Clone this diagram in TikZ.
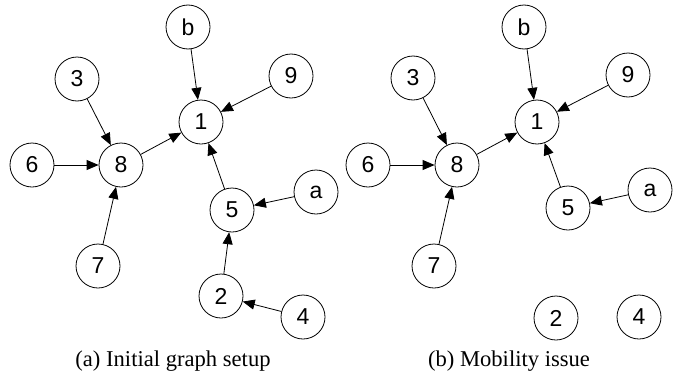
\documentclass[tikz,border=0pt]{standalone}
\usepackage{fontspec}
\setmainfont{Liberation Serif}
\newfontfamily\helv{Liberation Sans}
\usetikzlibrary{arrows.meta}
\begin{document}
\begin{tikzpicture}[x=0.5pt,y=-0.5pt]
\tikzstyle{no}=[circle, minimum size=22pt, inner sep=0, draw=black, line width=0.4pt, font=\helv\fontsize{11.5}{13}\selectfont]
\tikzstyle{seta}=[-{Triangle[length=6pt,width=5pt]}, line width=0.4pt]
\tikzstyle{legenda}=[font=\fontsize{11.3}{13}\selectfont]
\useasboundingbox(0,0) rectangle(678,375);
% (a) initial graph
\node[no](a1)at(201,122){1};
\node[no](ab)at(188,27){b};
\node[no](a9)at(291,76){9};
\node[no](a3)at(77,79){3};
\node[no](a6)at(32,165){6};
\node[no](a8)at(121,165){8};
\node[no](aa)at(316,192){a};
\node[no](a5)at(232,210){5};
\node[no](a7)at(98,266){7};
\node[no](a2)at(221,296){2};
\node[no](a4)at(303,317){4};
\draw[seta](ab)--(a1);
\draw[seta](a9)--(a1);
\draw[seta](a8)--(a1);
\draw[seta](a5)--(a1);
\draw[seta](a3)--(a8);
\draw[seta](a6)--(a8);
\draw[seta](a7)--(a8);
\draw[seta](aa)--(a5);
\draw[seta](a2)--(a5);
\draw[seta](a4)--(a2);
\node[legenda] at(173,361){(a) Initial graph setup};
% (b) mobility issue
\node[no](b1)at(537,122){1};
\node[no](bb)at(524,27){b};
\node[no](b9)at(628,75){9};
\node[no](b3)at(413,78){3};
\node[no](b6)at(368,165){6};
\node[no](b8)at(457,165){8};
\node[no](ba)at(650,190){a};
\node[no](b5)at(568,208){5};
\node[no](b7)at(434,266){7};
\node[no](b2)at(556,318){2};
\node[no](b4)at(639,317){4};
\draw[seta](bb)--(b1);
\draw[seta](b9)--(b1);
\draw[seta](b8)--(b1);
\draw[seta](b5)--(b1);
\draw[seta](b3)--(b8);
\draw[seta](b6)--(b8);
\draw[seta](b7)--(b8);
\draw[seta](ba)--(b5);
\node[legenda] at(509,361){(b) Mobility issue};
\end{tikzpicture}
\end{document}
